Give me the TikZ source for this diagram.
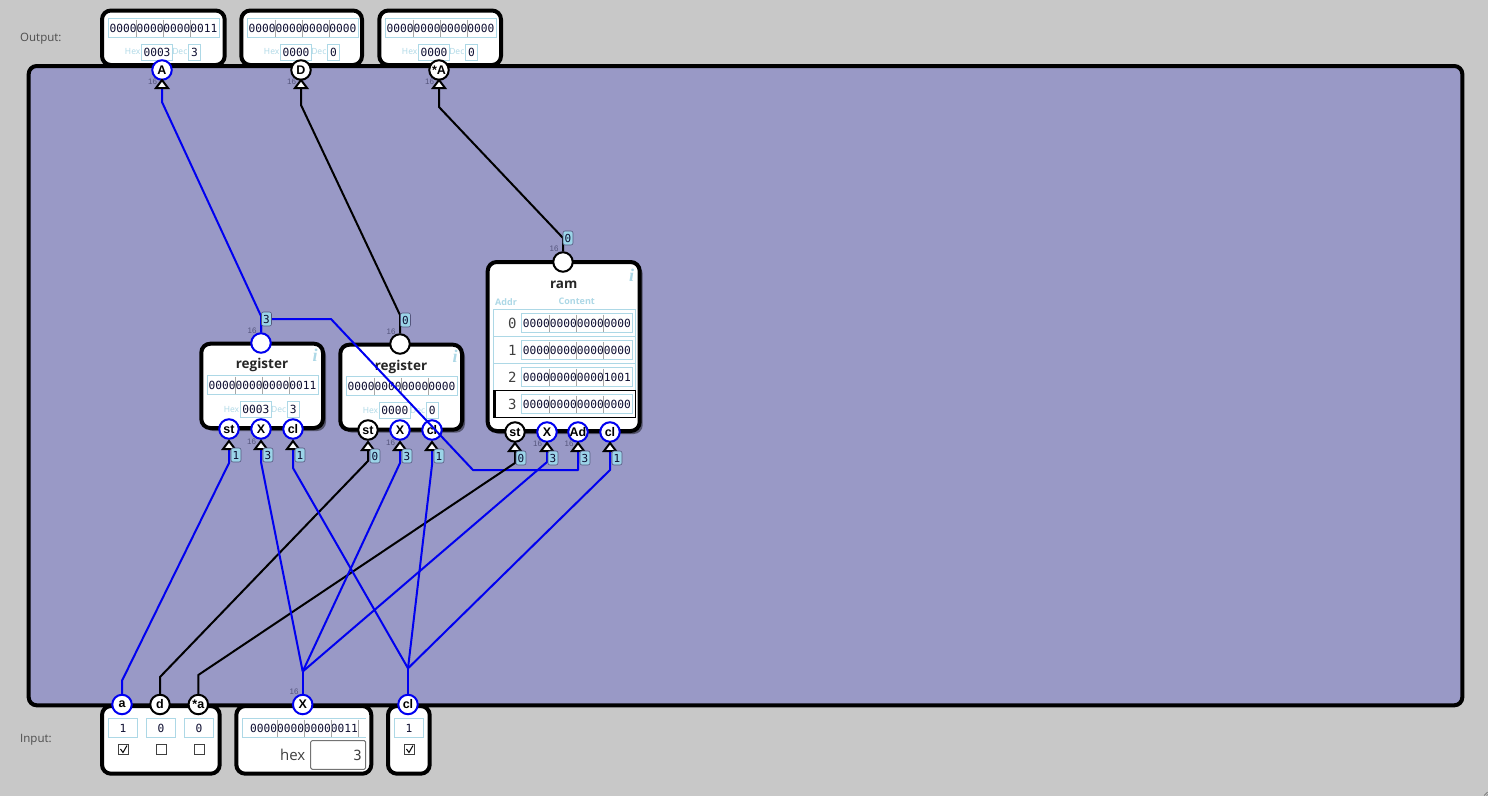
\documentclass[tikz,border=0pt]{standalone}
\usepackage{fontspec}
\setmainfont{Open Sans}
\setmonofont{DejaVu Sans Mono}
\newfontfamily\infofont{Liberation Serif}
\newfontfamily\pinfont{Liberation Sans}
\usetikzlibrary{shadows,calc}
\definecolor{bgc}{RGB}{200,200,200}
\definecolor{panelc}{RGB}{153,153,198}
\definecolor{lb}{RGB}{173,216,230}
\definecolor{lblfill}{RGB}{155,212,232}
\definecolor{bluew}{RGB}{0,0,240}
\definecolor{txt}{RGB}{15,15,50}
\definecolor{wdth}{RGB}{85,85,125}
\newcommand{\fs}[1]{\fontsize{#1}{#1}\selectfont}
\tikzset{
  x=1pt,y=-1pt,
  panel/.style={draw=black,line width=4pt,fill=panelc,rounded corners=8pt},
  chip/.style={draw=black,line width=4pt,fill=white,rounded corners=9pt},
  shadowed/.style={drop shadow={shadow xshift=3pt,shadow yshift=-3pt,fill=black,opacity=.45}},
  pinb/.style={circle,draw=black,line width=2pt,fill=white,minimum size=19.5pt,inner sep=0pt,font=\pinfont\fs{12.5}\bfseries,text=black},
  pinu/.style={pinb,draw=bluew},
  wireb/.style={draw=black,line width=2pt,line join=round},
  wireu/.style={draw=bluew,line width=2pt,line join=round},
  field/.style={draw=lb,line width=1pt,fill=white,inner sep=0pt,font=\ttfamily\fs{11.2},text=txt},
  hint/.style={inner sep=0pt,font=\fs{8.5},text=lb},
  tag/.style={draw=wdth,line width=.6pt,fill=lblfill,rounded corners=2pt,inner sep=0pt,minimum width=10pt,minimum height=14pt,font=\ttfamily\fs{11},text=txt},
  wd/.style={inner sep=0pt,font=\pinfont\fs{8},text=wdth},
  tip/.style={draw=black,line width=2pt,fill=white,line join=miter},
  caption/.style={inner sep=0pt,font=\fs{11.5},text=black!70},
  title/.style={inner sep=0pt,font=\fs{13.5}\bfseries,text=black!85},
  info/.style={inner sep=0pt,font=\infofont\fs{18}\bfseries\itshape,text=lb},
  sepl/.style={draw=black!35,line width=.5pt},
  rowl/.style={draw=lb,line width=1pt},
  idx/.style={inner sep=0pt,anchor=east,font=\ttfamily\fs{14},text=black!75},
  check/.style={draw=black!75,line width=1pt,fill=white},
}
\newcommand{\tipat}[3]{\coordinate (#1) at (#2,#3+9);}
\newcommand{\tipdraw}[1]{\path[tip,draw] ($(#1)+(0,-8)$) -- ($(#1)+(6,0)$) -- ($(#1)+(-6,0)$) -- cycle;}
% 16-bit field
\newcommand{\bits}[6][111]{%
  \node[field,minimum width=#1pt,minimum height=18.5pt] (#2) at (#3,#4) {#5};
  \foreach \k in {-27,0,27} \draw[sepl] ($(#2.center)+(\k+#6,-8.5)$) -- ($(#2.center)+(\k+#6,8.5)$);
}
% hex and dec row: x0, y, hex, dec, name
\newcommand{\hexdec}[5]{%
  \node[hint,anchor=east] (#5hl) at (#1+15,#2) {Hex};
  \node[hint,anchor=east] (#5dl) at (#1+62,#2) {Dec};
  \node[field,minimum width=31pt,minimum height=16pt] (#5h) at (#1+31.5,#2) {#3};
  \node[field,minimum width=12pt,minimum height=16pt] (#5d) at (#1+69,#2) {#4};
}
\begin{document}
\begin{tikzpicture}
\useasboundingbox (0,0) rectangle (1488,796);
\fill[bgc] (0,0) rectangle (1488,796);
\draw[black!55,line width=.7pt] (1484,795.5) -- (1487.5,792) (1486.5,795.5) -- (1487.5,794.5);

\node[caption,anchor=west] (outl) at (20,39) {Output:};
\node[caption,anchor=west] (inl) at (20,740) {Input:};

% output boxes
\draw[chip] (102,10.5) rectangle (224.7,65);
\draw[chip] (241.3,10.5) rectangle (362,65);
\draw[chip] (379.3,10.5) rectangle (501,65);
% input boxes
\draw[chip] (102,706) rectangle (219.7,773.7);
\draw[chip] (236.3,706) rectangle (371.3,773.7);
\draw[chip] (388,706) rectangle (429.7,773.7);
% panel
\draw[panel] (28.7,66) rectangle (1462.3,705.3);

% output contents
\bits{oa}{163.5}{28}{0000000000000011}{0}
\hexdec{125.5}{52}{0003}{3}{oa}
\bits{od}{302.5}{28}{0000000000000000}{0}
\hexdec{264.5}{52}{0000}{0}{od}
\bits{os}{440.5}{28}{0000000000000000}{0}
\hexdec{402.5}{52}{0000}{0}{os}

% registers
\draw[chip,shadowed] (201.3,343.7) rectangle (323,428);
\draw[chip,shadowed] (340.3,344.7) rectangle (462,429.7);
\node[title] (r1t) at (262,365) {register};
\node[title] (r2t) at (401,366.5) {register};
\node[info] (r1i) at (315,355) {i};
\node[info] (r2i) at (455,356) {i};
\bits{r1b}{262.5}{385}{0000000000000011}{0}
\hexdec{224.3}{409.3}{0003}{3}{ra}
\bits{r2b}{401.5}{386}{0000000000000000}{0}
\hexdec{363.3}{410.3}{0000}{0}{rb}

% ram
\draw[chip,shadowed] (487.7,262) rectangle (639.7,431);
\node[title] (rt) at (563.7,285) {ram};
\node[info] (ri) at (631.7,275) {i};
\node[inner sep=0pt,font=\fs{9}\bfseries,text=lb] (ra) at (506,301.7) {Addr};
\node[inner sep=0pt,font=\fs{9}\bfseries,text=lb] (rc) at (576.7,301.7) {Content};
\draw[rowl] (493.5,309.5) rectangle (635,417);
\draw[rowl] (493.5,336.5) -- (635,336.5) (493.5,363.5) -- (635,363.5);
\foreach \i/\yy/\vv in {0/323/0000000000000000,1/350/0000000000000000,2/377/0000000000001001,3/404/0000000000000000}{
  \node[idx] (idx\i) at (516.7,\yy) {\i};
  \bits{m\i}{576.8}{\yy}{\vv}{-0.5}
}
\draw[black,line width=1pt] (493,390.5) rectangle (635,417.5);
\fill[black] (493,390) rectangle (495.5,418);

% input contents
\node[field,minimum width=29pt,minimum height=18.5pt] (va) at (123,728) {1};
\node[field,minimum width=29pt,minimum height=18.5pt] (vd) at (161,728) {0};
\node[field,minimum width=29pt,minimum height=18.5pt] (vs) at (199,728) {0};
\draw[check] (118.5,744.5) rectangle (128.5,754.5);
\draw[black,line width=1pt] (120.5,749) -- (123,752.5) -- (127,745.5);
\draw[check] (156.5,744.5) rectangle (166.5,754.5);
\draw[check] (194.5,744.5) rectangle (204.5,754.5);
\draw[check] (404.5,744.5) rectangle (414.5,754.5);
\draw[black,line width=1pt] (406.5,749) -- (409,752.5) -- (413,745.5);
\node[field,minimum width=124pt,minimum height=18pt,draw=none] (vx) at (304,728) {0000000000000011};
\draw[lb,line width=1pt] (365.7,718.7) -- (242.3,718.7) -- (242.3,737.3) -- (365.7,737.3);
\foreach \k in {-27,0,27,54} \draw[sepl] ($(vx.center)+(\k,-8.5)$) -- ($(vx.center)+(\k,8.5)$);
\node[inner sep=0pt,font=\fs{15},text=black!75,anchor=east] (hx) at (305.5,755) {hex};
\draw[black!55,line width=1pt,fill=white,rounded corners=1.5pt] (310.7,740.5) rectangle (365.7,769.3);
\node[inner sep=0pt,anchor=east,font=\ttfamily\fs{14},text=black!75] (hv) at (362,755) {3};
\node[field,minimum width=29pt,minimum height=18.5pt] (vc) at (409,728) {1};

% pins
\node[pinu] (oA) at (162,70) {A};
\node[pinb] (oD) at (301,70) {D};
\node[pinb] (oS) at (439,70) {*A};
\node[pinu] (r1o) at (261,343) {};
\node[pinb] (r2o) at (400,344) {};
\node[pinb] (mo) at (563,262) {};
\node[pinu] (r1s) at (229,429) {st};
\node[pinu] (r1x) at (261,429) {X};
\node[pinu] (r1c) at (293,429) {cl};
\node[pinb] (r2s) at (368,430) {st};
\node[pinu] (r2x) at (400,430) {X};
\node[pinu] (r2c) at (432,430) {cl};
\node[pinb] (ms) at (515,432) {st};
\node[pinu] (mx) at (547,432) {X};
\node[pinu] (ma) at (578,432) {Ad};
\node[pinu] (mc) at (610,432) {cl};
\node[pinu] (ia) at (122,704.5) {a};
\node[pinb] (id) at (160,704.5) {d};
\node[pinb] (is) at (198.3,704.5) {*a};
\node[pinu] (ix) at (302.7,704.5) {X};
\node[pinu] (ic) at (408,704.5) {cl};

% widths
\foreach \n/\xx/\yy in {a/152.5/82,b/291.5/82,c/429.5/82,d/252/331,e/391/332,f/554/249,g/251.5/442,h/390.5/443,i/537.5/444,j/569/444,k/294/692}{
  \node[wd] (w\n) at (\xx,\yy) {16};
}

% tips
\tipat{tA}{162}{79}\tipat{tD}{301}{79}\tipat{tS}{439}{79}
\tipat{t1s}{229}{440}\tipat{t1x}{261}{440}\tipat{t1c}{293}{440}
\tipat{t2s}{368}{441}\tipat{t2x}{400}{441}\tipat{t2c}{432}{441}
\tipat{tms}{515}{442}\tipat{tmx}{547}{442}\tipat{tma}{578}{442}\tipat{tmc}{610}{442}

% branch points
\coordinate (bx) at (302.7,671.5);
\coordinate (bc) at (408,668.3);

% wires
\draw[wireu] (r1o) -- (261,316) -- (162,102) -- (tA);
\draw[wireb] (r2o) -- (400,315) -- (301,105) -- (tD);
\draw[wireb] (mo) -- (563,238) -- (439,107) -- (tS);
\draw[wireu] (r1o) -- (261,319) -- (331,319) -- (473,470) -- (578,470) -- (tma);
\draw[wireu] (ia) -- (122,680.7) -- (229,463) -- (t1s);
\draw[wireb] (id) -- (160,677) -- (368,461) -- (t2s);
\draw[wireb] (is) -- (198.3,675) -- (515,463) -- (tms);
\draw[wireu] (ix) -- (bx);
\draw[wireu] (bx) -- (261,462) -- (t1x);
\draw[wireu] (bx) -- (400,463) -- (t2x);
\draw[wireu] (bx) -- (547,462) -- (tmx);
\draw[wireu] (ic) -- (bc);
\draw[wireu] (bc) -- (293,468) -- (t1c);
\draw[wireu] (bc) -- (432,465) -- (t2c);
\draw[wireu] (bc) -- (610,470) -- (tmc);

\foreach \t in {tA,tD,tS,t1s,t1x,t1c,t2s,t2x,t2c,tms,tmx,tma,tmc} {\tipdraw{\t}}

% value tags
\foreach \n/\xx/\yy/\v in {a/266.5/319/3,b/405.5/320/0,c/568/238/0,d/236/455/1,e/268/455/3,f/300/455/1,g/375/456/0,h/407/456/3,i/439/456/1,j/521/458/0,k/553/458/3,l/585/458/3,m/617/458/1}{
  \node[tag] (tag\n) at (\xx,\yy) {\v};
}
\end{tikzpicture}
\end{document}
